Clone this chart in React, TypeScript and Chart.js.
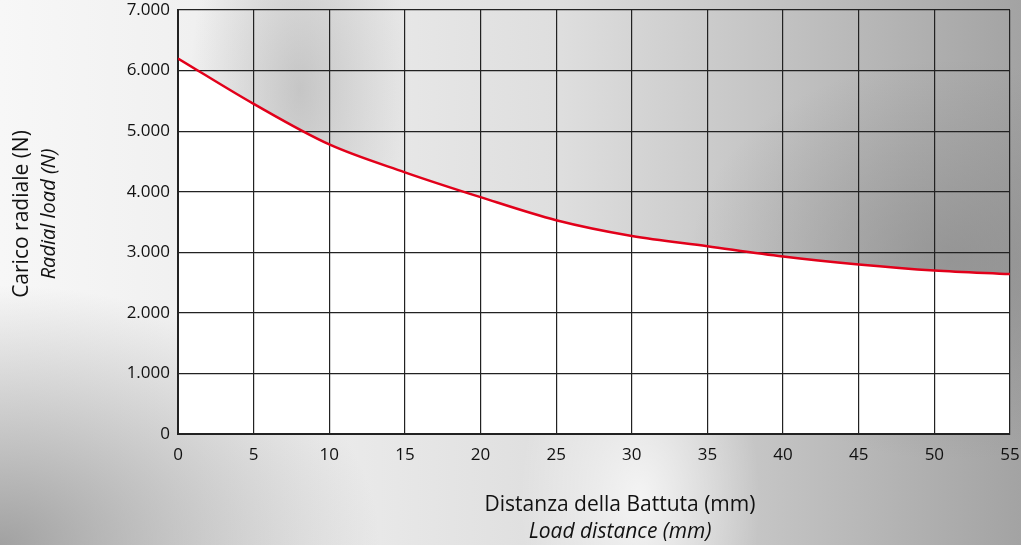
import React, { useEffect, useRef } from "react";
import { Chart, registerables } from "chart.js";

Chart.register(...registerables);

const distances = [0, 5, 10, 15, 20, 25, 30, 35, 40, 45, 50, 55];
const loads = [6200, 5450, 4780, 4320, 3910, 3530, 3270, 3100, 2930, 2800, 2700, 2640];
const yTicks = [0, 1000, 2000, 3000, 4000, 5000, 6000, 7000];
const xTitle = ["Distanza della Battuta (mm)", "Load distance (mm)"];
const yTitle = ["Carico radiale (N)", "Radial load (N)"];

const FONT = "'Open Sans', 'Noto Sans', sans-serif";

function fmt(v: number): string {
  const s = String(Math.round(v));
  return s.replace(/\B(?=(\d{3})+(?!\d))/g, ".");
}

const titlesPlugin = {
  id: "titles",
  afterDraw(chart: any) {
    const ctx = chart.ctx;
    ctx.save();
    ctx.fillStyle = "#111";
    ctx.textAlign = "center";
    ctx.textBaseline = "alphabetic";
    ctx.font = `21px ${FONT}`;
    ctx.fillText(xTitle[0], 620, 511);
    ctx.font = `italic 21px ${FONT}`;
    ctx.fillText(xTitle[1], 620, 538);
    ctx.translate(28, 214);
    ctx.rotate(-Math.PI / 2);
    ctx.font = `21px ${FONT}`;
    ctx.fillText(yTitle[0], 0, 0);
    ctx.font = `italic 20px ${FONT}`;
    ctx.fillText(yTitle[1], 0, 27);
    ctx.restore();
  },
};

export default function App() {
  const ref = useRef<HTMLCanvasElement>(null);
  useEffect(() => {
    document.body.style.margin = "0";
    const chart = new Chart(ref.current!, {
      type: "line",
      data: {
        datasets: [
          {
            data: distances.map((d, i) => ({ x: d, y: loads[i] })),
            borderColor: "#e2001a",
            borderWidth: 2.5,
            pointRadius: 0,
            cubicInterpolationMode: "monotone",
            fill: "origin",
            backgroundColor: "#ffffff",
          },
        ],
      },
      options: {
        animation: false,
        responsive: false,
        layout: { padding: { top: 10, right: 11, left: 0, bottom: 0 } },
        plugins: {
          legend: { display: false },
          tooltip: { enabled: false },
          filler: { drawTime: "beforeDraw" },
        } as any,
        scales: {
          x: {
            type: "linear",
            min: 0,
            max: 55,
            afterFit: (s: any) => {
              s.height = 111;
              s.paddingLeft = 0;
              s.paddingRight = 0;
            },
            afterBuildTicks: (s: any) => {
              s.ticks = distances.map((v) => ({ value: v }));
            },
            grid: { color: "#222", lineWidth: 1.2, drawTicks: false },
            border: { color: "#222", width: 2 },
            ticks: {
              color: "#111",
              font: { family: FONT, size: 17 },
              padding: 11,
              maxRotation: 0,
              autoSkip: false,
            },
          },
          y: {
            type: "linear",
            min: 0,
            max: 7000,
            afterFit: (s: any) => {
              s.width = 178;
              s.paddingTop = 0;
              s.paddingBottom = 0;
            },
            afterBuildTicks: (s: any) => {
              s.ticks = yTicks.map((v) => ({ value: v }));
            },
            grid: { color: "#222", lineWidth: 1.2, drawTicks: false },
            border: { color: "#222", width: 2 },
            ticks: {
              color: "#111",
              font: { family: FONT, size: 17 },
              padding: 8,
              callback: (v: any) => fmt(Number(v)),
            },
          },
        },
      },
      plugins: [titlesPlugin],
    });
    return () => chart.destroy();
  }, []);

  const bg = [
    "radial-gradient(ellipse 110px 230px at 300px 90px, rgba(150,150,150,0.45), rgba(150,150,150,0) 100%)",
    "radial-gradient(ellipse 120px 200px at 640px 500px, rgba(255,255,255,0.75), rgba(255,255,255,0) 100%)",
    "radial-gradient(ellipse 380px 260px at 0px 545px, rgba(140,140,140,0.8), rgba(140,140,140,0) 100%)",
    "radial-gradient(ellipse 260px 200px at 950px 260px, rgba(130,130,130,0.55), rgba(130,130,130,0) 100%)",
    "linear-gradient(to right, #f7f7f7 0%, #ececec 30%, #dedede 55%, #c4c4c4 75%, #a3a3a3 100%)",
  ].join(", ");

  return (
    <div
      style={{
        position: "fixed",
        left: 0,
        top: 0,
        width: 1021,
        height: 545,
        background: bg,
      }}
    >
      <canvas ref={ref} width={1021} height={545} style={{ display: "block" }} />
    </div>
  );
}
